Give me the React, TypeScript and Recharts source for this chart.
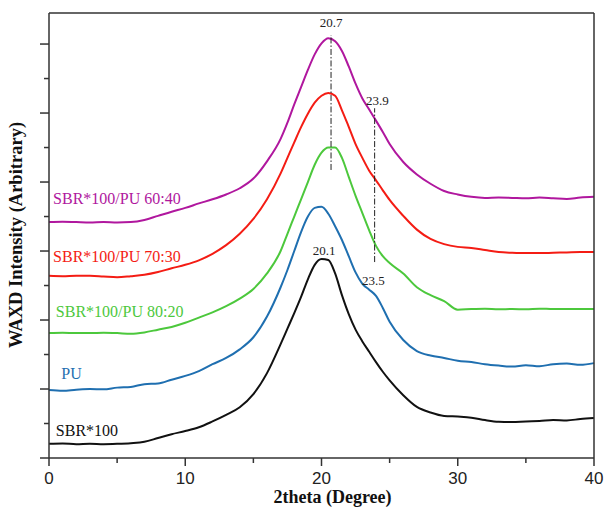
import { LineChart, Line, XAxis, YAxis, ReferenceLine, ReferenceDot } from 'recharts';

// 2theta positions (degree)
const xs = [
  0, 1, 2, 3, 4, 5, 6, 7, 8, 9, 10, 11, 12, 13, 14, 15, 16,
  17, 17.5, 18, 18.5, 19, 19.5, 20, 20.5, 21, 21.5, 22, 22.5, 23, 23.5, 24, 24.5,
  25, 26, 27, 28, 29, 30, 31, 32, 33, 34, 35, 36, 37, 38, 39, 40,
];

// intensities, arbitrary units (curves stacked with offsets)
const sbr100 = [
  0.41, 0.42, 0.40, 0.41, 0.40, 0.41, 0.43, 0.47, 0.58, 0.69, 0.78, 0.89, 1.06, 1.25, 1.47, 1.85, 2.46,
  3.3, 3.75, 4.2, 4.67, 5.18, 5.6, 5.77, 5.74, 5.35, 4.72, 4.17, 3.72, 3.38, 3.08, 2.78, 2.5,
  2.25, 1.82, 1.48, 1.32, 1.22, 1.2, 1.17, 1.1, 1.05, 1.04, 1.06, 1.07, 1.1, 1.09, 1.13, 1.16,
];
const pu = [
  1.97, 1.95, 1.98, 2.0, 1.99, 2.04, 2.06, 2.14, 2.16, 2.27, 2.38, 2.52, 2.72, 2.9, 3.15, 3.5, 4.1,
  4.95, 5.45, 6.0, 6.55, 7.0, 7.25, 7.28, 7.08, 6.72, 6.32, 5.85, 5.38, 5.05, 4.88, 4.7, 4.35,
  3.95, 3.42, 3.1, 2.97, 2.9, 2.82, 2.78, 2.72, 2.68, 2.65, 2.69, 2.66, 2.72, 2.74, 2.7, 2.75,
];
const pu8020 = [
  3.62, 3.63, 3.62, 3.62, 3.63, 3.62, 3.6, 3.64, 3.72, 3.8, 3.92, 4.07, 4.22, 4.4, 4.62, 4.9, 5.35,
  6.0, 6.5, 7.0, 7.5, 8.0, 8.5, 8.85, 9.0, 9.0, 8.7, 8.15, 7.6, 7.1, 6.6, 6.15, 5.85,
  5.65, 5.35, 4.95, 4.72, 4.55, 4.3, 4.32, 4.33, 4.31, 4.32, 4.31, 4.33, 4.32, 4.32, 4.32, 4.32,
];
const pu7030 = [
  5.28, 5.27, 5.28, 5.28, 5.26, 5.24, 5.27, 5.31, 5.39, 5.5, 5.6, 5.73, 5.92, 6.17, 6.5, 6.93, 7.5,
  8.25, 8.7, 9.15, 9.59, 9.98, 10.3, 10.5, 10.58, 10.5, 10.08, 9.6, 9.1, 8.7, 8.33, 8.05, 7.76,
  7.48, 7.02, 6.62, 6.35, 6.2, 6.12, 6.09, 6.03, 5.97, 5.95, 5.94, 5.94, 5.95, 5.96, 5.97, 5.97,
];
const pu6040 = [
  6.84, 6.85, 6.84, 6.83, 6.84, 6.83, 6.84, 6.9, 7.02, 7.14, 7.25, 7.38, 7.5, 7.64, 7.82, 8.1, 8.6,
  9.25, 9.72, 10.25, 10.75, 11.25, 11.7, 12.02, 12.17, 12.08, 11.8, 11.35, 10.85, 10.42, 10.1, 9.78, 9.45,
  9.1, 8.58, 8.22, 7.95, 7.74, 7.64, 7.57, 7.54, 7.55, 7.54, 7.53, 7.55, 7.53, 7.51, 7.55, 7.57,
];

const xTicks = [0, 5, 10, 15, 20, 25, 30, 35, 40];
const yTicks = [0, 1, 2, 3, 4, 5, 6, 7, 8, 9, 10, 11, 12];
const X_MAX = 40;
const Y_MAX = 12.9;

const seriesNames = ['SBR*100', 'PU', 'SBR*100/PU 80:20', 'SBR*100/PU 70:30', 'SBR*100/PU 60:40'];
const seriesKeys = ['sbr100', 'pu', 'pu8020', 'pu7030', 'pu6040'];
const seriesColors = ['#111111', '#1f6fb0', '#4cc83c', '#f41c14', '#b0179e'];

// where each name sits, in data units (start of text, baseline)
const nameX = [0.5, 0.9, 0.5, 0.3, 0.3];
const nameY = [0.64, 2.29, 4.09, 5.68, 7.36];

const peakText = ['20.7', '23.9', '20.1', '23.5'];
const peakX = [20.7, 24.1, 20.2, 23.8];
const peakY = [12.49, 10.23, 5.88, 5.01];

const guideX = [20.7, 23.9];
const guideFrom = [8.35, 5.68];
const guideTo = [12.26, 10.14];

const data = xs.map((x, i) => ({
  x,
  sbr100: sbr100[i],
  pu: pu[i],
  pu8020: pu8020[i],
  pu7030: pu7030[i],
  pu6040: pu6040[i],
}));

const FRAME = '#333';
const SERIF = '"Liberation Serif", "Times New Roman", serif';
const SANS = '"Liberation Sans", Arial, sans-serif';

const W = 604;
const H = 513;
const MARGIN = { top: 13, right: 10, bottom: 0, left: 0 };
const Y_AXIS_W = 49;
const X_AXIS_H = 55;
const PLOT_W = W - MARGIN.left - MARGIN.right - Y_AXIS_W;
const PLOT_H = H - MARGIN.top - MARGIN.bottom - X_AXIS_H;

function YTick({ x, y, payload }: any) {
  const len = payload.value % 2 === 0 ? 9 : 5;
  return <line x1={x - len} x2={x} y1={y} y2={y} stroke={FRAME} strokeWidth={1.5} />;
}

// bottom ticks; the first and last tick also draw the top and right frame edges
function XTick({ x, y, payload }: any) {
  const major = payload.value % 10 === 0;
  return (
    <g>
      <line x1={x} x2={x} y1={y} y2={y + (major ? 8 : 5)} stroke={FRAME} strokeWidth={1.5} />
      {payload.value === 0 && (
        <line x1={x} x2={x + PLOT_W} y1={y - PLOT_H} y2={y - PLOT_H} stroke={FRAME} strokeWidth={1.5} />
      )}
      {payload.value === X_MAX && (
        <line x1={x} x2={x} y1={y} y2={y - PLOT_H} stroke={FRAME} strokeWidth={1.5} />
      )}
      {major && (
        <text x={x} y={y + 26} textAnchor="middle" fontFamily={SANS} fontSize={17} fill="#222">
          {payload.value}
        </text>
      )}
    </g>
  );
}

export default function App() {
  return (
    <div style={{ position: 'absolute', left: 0, top: 0, width: W, height: H }}>
      <LineChart width={W} height={H} data={data} margin={MARGIN}>
        <XAxis
          dataKey="x"
          type="number"
          domain={[0, X_MAX]}
          ticks={xTicks}
          interval={0}
          height={X_AXIS_H}
          tickSize={0}
          tickMargin={0}
          tickLine={false}
          tick={<XTick />}
          axisLine={{ stroke: FRAME, strokeWidth: 1.5 }}
          label={{
            content: ({ viewBox }: any) => (
              <text
                x={viewBox.x + viewBox.width / 2 + 11}
                y={503}
                textAnchor="middle"
                fontFamily={SERIF}
                fontWeight="bold"
                fontSize={18}
                fill="#111"
              >
                2theta (Degree)
              </text>
            ),
          }}
        />
        <YAxis
          type="number"
          domain={[0, Y_MAX]}
          ticks={yTicks}
          interval={0}
          width={Y_AXIS_W}
          tickSize={0}
          tickMargin={0}
          tickLine={false}
          tick={<YTick />}
          axisLine={{ stroke: FRAME, strokeWidth: 1.5 }}
          label={{
            content: () => (
              <text
                x={22}
                y={235}
                transform="rotate(-90 22 235)"
                textAnchor="middle"
                fontFamily={SERIF}
                fontWeight="bold"
                fontSize={18.5}
                fill="#111"
              >
                WAXD Intensity (Arbitrary)
              </text>
            ),
          }}
        />
        {seriesKeys.map((k, i) => (
          <Line
            key={k}
            type="monotone"
            dataKey={k}
            name={seriesNames[i]}
            stroke={seriesColors[i]}
            strokeWidth={2}
            dot={false}
            isAnimationActive={false}
          />
        ))}
        {guideX.map((gx, i) => (
          <ReferenceLine
            key={'g' + i}
            segment={[{ x: gx, y: guideFrom[i] }, { x: gx, y: guideTo[i] }]}
            stroke="#222"
            strokeWidth={1}
            strokeDasharray="6 2 1.5 2"
          />
        ))}
        {seriesNames.map((n, i) => (
          <ReferenceDot
            key={'n' + i}
            x={nameX[i]}
            y={nameY[i]}
            r={0}
            fill="none"
            stroke="none"
            label={{
              content: ({ viewBox }: any) => (
                <text x={viewBox.x} y={viewBox.y} fontFamily={SERIF} fontSize={16} fill={seriesColors[i]}>
                  {n}
                </text>
              ),
            }}
          />
        ))}
        {peakText.map((t, i) => (
          <ReferenceDot
            key={'p' + i}
            x={peakX[i]}
            y={peakY[i]}
            r={0}
            fill="none"
            stroke="none"
            label={{
              content: ({ viewBox }: any) => (
                <text x={viewBox.x} y={viewBox.y} textAnchor="middle" fontFamily={SERIF} fontSize={13} fill="#222">
                  {t}
                </text>
              ),
            }}
          />
        ))}
      </LineChart>
    </div>
  );
}
